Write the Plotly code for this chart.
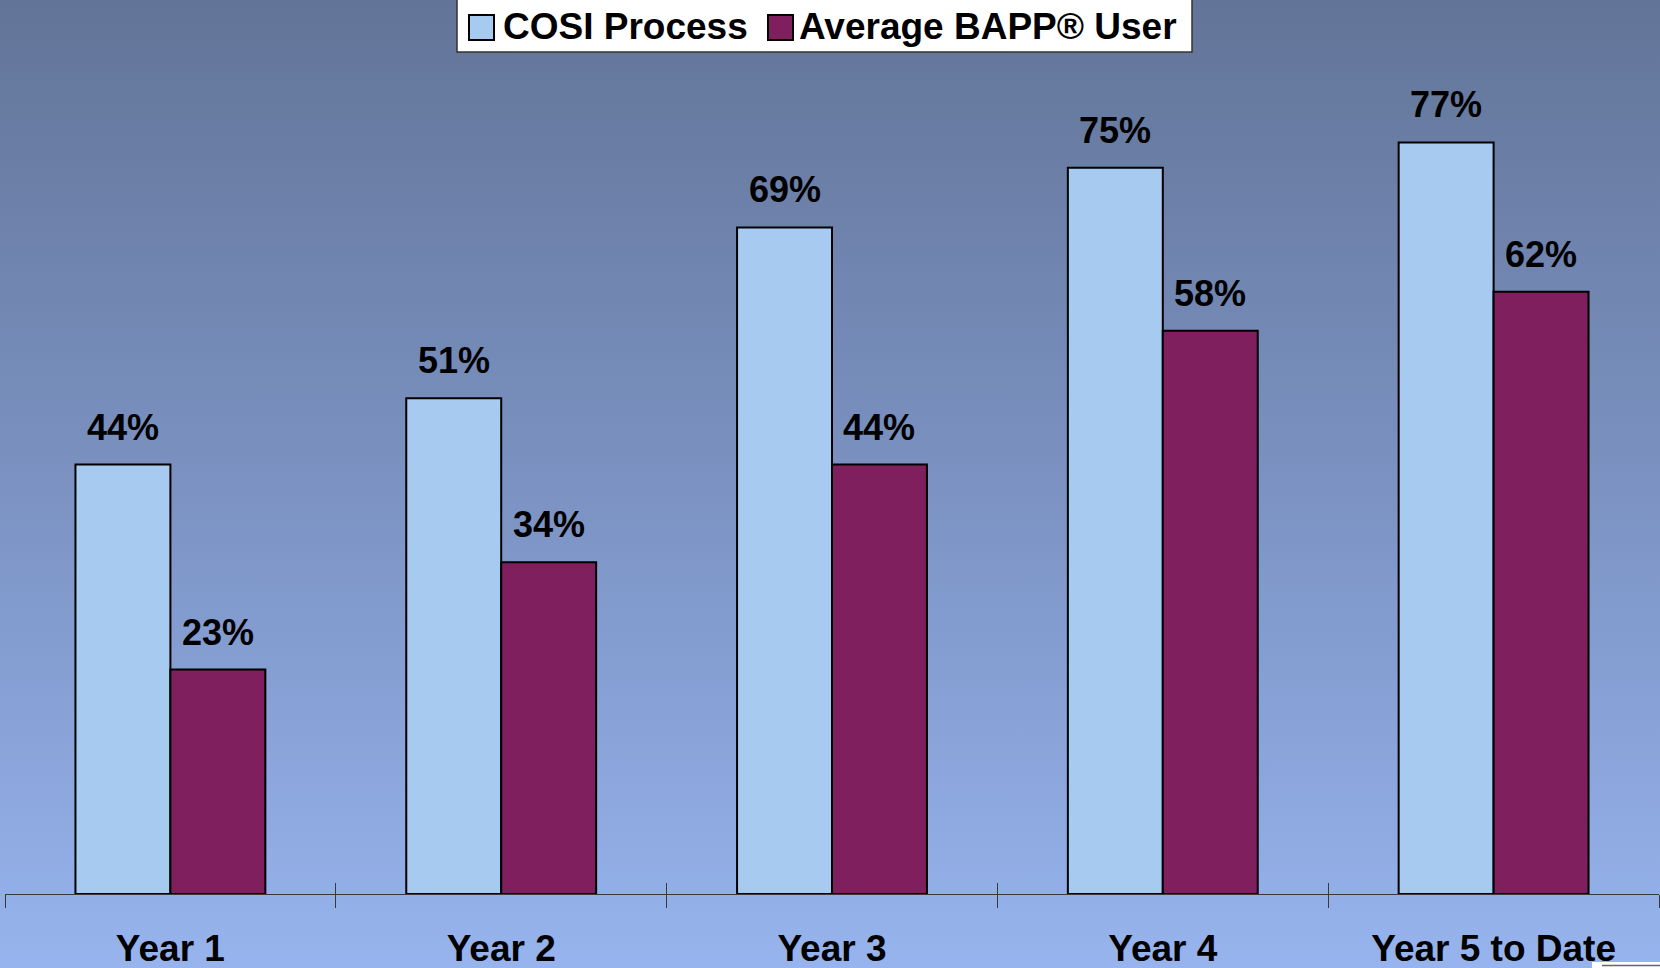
import base64
import plotly.graph_objects as go

# ---- data ----
categories = ["Year 1", "Year 2", "Year 3", "Year 4", "Year 5 to Date"]
cosi_values = [44, 50.8, 68.3, 74.4, 77]
bapp_values = [23, 34, 44, 57.7, 61.7]
cosi_labels = ["44%", "51%", "69%", "75%", "77%"]
bapp_labels = ["23%", "34%", "44%", "58%", "62%"]
series_names = ["COSI Process", "Average BAPP® User"]

COSI_COLOR = "#A6CAF0"
BAPP_COLOR = "#801F5D"
FONT = "Liberation Sans, Arial, sans-serif"

W, H = 1660, 968
ML, MR, MT, MB = 5, 1, 20, 74
PW, PH = W - ML - MR, H - MT - MB
YMAX = PH / 9.76
BARGAP = 0.426


def px_x(x):
    return (x - ML) / PW


def px_y(y):
    return (H - MB - y) / PH


# background gradient as an inline SVG image
svg = (
    '<svg xmlns="http://www.w3.org/2000/svg" width="100" height="100" preserveAspectRatio="none">'
    '<defs><linearGradient id="g" x1="0" y1="0" x2="0" y2="1">'
    '<stop offset="0" stop-color="#627497"/>'
    '<stop offset="0.5" stop-color="#7b92c2"/>'
    '<stop offset="1" stop-color="#97b4ee"/>'
    '</linearGradient></defs><rect width="100" height="100" fill="url(#g)"/></svg>'
)
bg_src = "data:image/svg+xml;base64," + base64.b64encode(svg.encode()).decode()

n = len(categories)
boundaries = [i - 0.5 for i in range(n + 1)]

fig = go.Figure()
fig.add_trace(go.Bar(
    x=categories, y=cosi_values, name=series_names[0],
    marker=dict(color=COSI_COLOR, line=dict(color="black", width=2)),
    hoverinfo="skip",
))
fig.add_trace(go.Bar(
    x=categories, y=bapp_values, name=series_names[1],
    marker=dict(color=BAPP_COLOR, line=dict(color="black", width=2)),
    hoverinfo="skip",
))
# invisible helper trace so the overlay axis (upper half of the crossing ticks) is drawn
fig.add_trace(go.Scatter(
    x=boundaries, y=[0] * len(boundaries), xaxis="x2", yaxis="y",
    mode="markers", marker=dict(opacity=0), hoverinfo="skip", showlegend=False,
))

half = (1 - BARGAP) / 4
annotations = []
for i in range(n):
    for vals, labs, off in ((cosi_values, cosi_labels, -half), (bapp_values, bapp_labels, half)):
        annotations.append(dict(
            x=i + off, y=vals[i], xref="x", yref="y", text=labs[i],
            showarrow=False, yanchor="bottom", xanchor="center", yshift=15,
            font=dict(family=FONT, size=36, color="black", weight="bold"),
        ))

# manual legend
shapes = [
    dict(type="rect", xref="paper", yref="paper", layer="above",
         x0=px_x(457), x1=px_x(1192), y0=px_y(52), y1=px_y(-5),
         fillcolor="white", line=dict(color="#333333", width=1.5)),
    dict(type="rect", xref="paper", yref="paper", layer="above",
         x0=px_x(469), x1=px_x(494), y0=px_y(40), y1=px_y(15),
         fillcolor=COSI_COLOR, line=dict(color="black", width=2)),
    dict(type="rect", xref="paper", yref="paper", layer="above",
         x0=px_x(768), x1=px_x(793), y0=px_y(40), y1=px_y(15),
         fillcolor=BAPP_COLOR, line=dict(color="black", width=2)),
    dict(type="rect", xref="paper", yref="paper", layer="above",
         x0=px_x(1592), x1=px_x(1664), y0=px_y(972), y1=px_y(962),
         fillcolor="white", line=dict(color="white", width=0)),
    dict(type="line", xref="paper", yref="paper", layer="above",
         x0=px_x(1602), x1=px_x(1664), y0=px_y(965.5), y1=px_y(965.5),
         line=dict(color="#666666", width=1.5)),
]
for name, xpx in ((series_names[0], 501), (series_names[1], 797)):
    annotations.append(dict(
        x=px_x(xpx), y=px_y(49), xref="paper", yref="paper", text=name,
        showarrow=False, xanchor="left", yanchor="bottom",
        font=dict(family=FONT, size=37, color="black", weight="bold"),
    ))

fig.update_layout(
    width=W, height=H,
    margin=dict(l=ML, r=MR, t=MT, b=MB, autoexpand=False),
    paper_bgcolor="#8aa3d8",
    plot_bgcolor="rgba(0,0,0,0)",
    barmode="group", bargap=BARGAP, bargroupgap=0,
    showlegend=False,
    font=dict(family=FONT, color="black"),
    images=[dict(source=bg_src, xref="paper", yref="paper",
                 x=px_x(-2), y=px_y(-2), sizex=(W + 4) / PW, sizey=(H + 4) / PH,
                 xanchor="left", yanchor="top", sizing="stretch", layer="below")],
    xaxis=dict(
        type="category", range=[-0.5, n - 0.5], showgrid=False, zeroline=False,
        showline=True, linecolor="#3a3a3a", linewidth=1, automargin=False,
        ticks="outside", ticklen=13, tickwidth=1, tickcolor="#3a3a3a",
        tickson="boundaries", ticklabelstandoff=22,
        tickfont=dict(family=FONT, size=37, color="black", weight="bold"),
    ),
    xaxis2=dict(
        overlaying="x", anchor="y", side="bottom", range=[-0.5, n - 0.5],
        tickmode="array", tickvals=boundaries, ticks="inside", ticklen=11,
        tickwidth=1, tickcolor="#3a3a3a", showticklabels=False, automargin=False,
        showgrid=False, zeroline=False, showline=False, fixedrange=True,
    ),
    yaxis=dict(range=[0, YMAX], visible=False, fixedrange=True, automargin=False),
    shapes=shapes,
    annotations=annotations,
)

fig.write_html(
    "out.html",
    config={"displayModeBar": False},
    post_script="document.body.style.margin='0px';document.body.style.overflow='hidden';",
)
